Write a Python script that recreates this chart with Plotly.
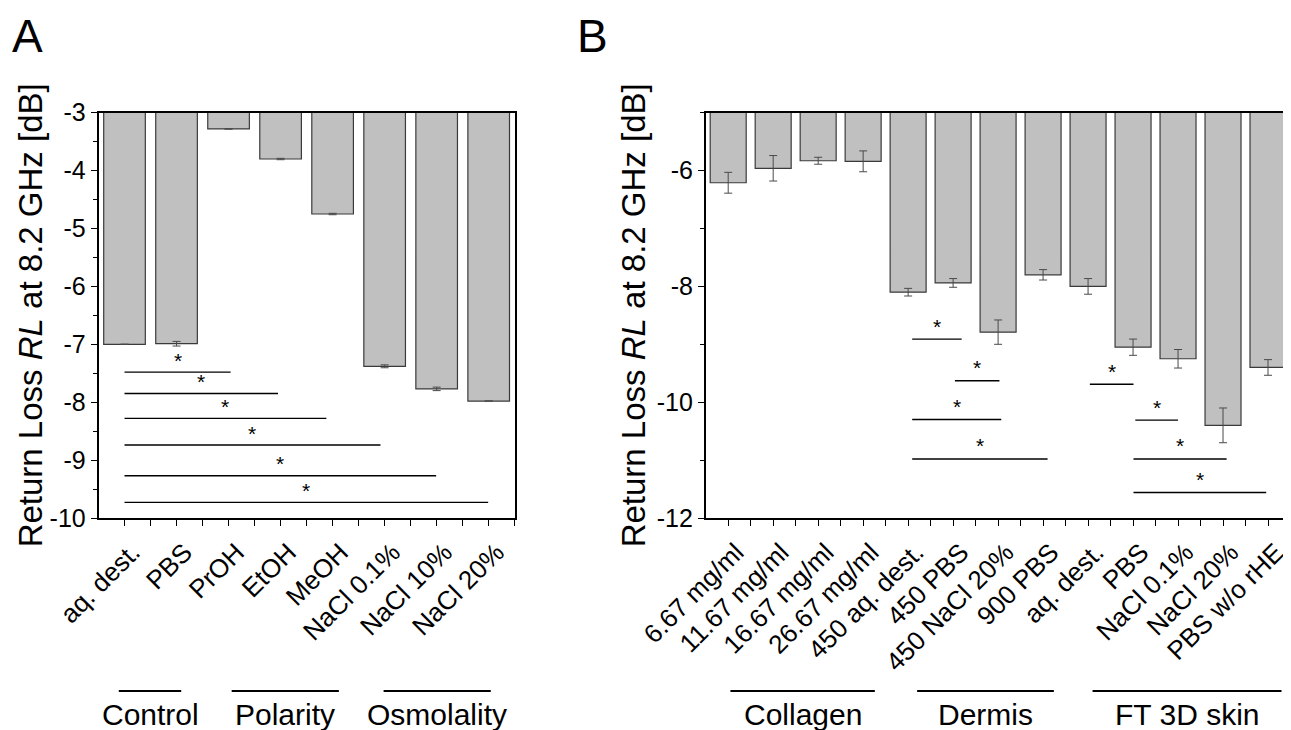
import plotly.graph_objects as go

# ---------------- data ----------------
cats_A = ["aq. dest.", "PBS", "PrOH", "EtOH", "MeOH", "NaCl 0.1%", "NaCl 10%", "NaCl 20%"]
vals_A = [-7.00, -6.99, -3.28, -3.80, -4.75, -7.38, -7.77, -7.98]
err_A = [0.0, 0.04, 0.005, 0.012, 0.012, 0.025, 0.03, 0.0]

cats_B = ["6.67 mg/ml", "11.67 mg/ml", "16.67 mg/ml", "26.67 mg/ml", "450 aq. dest.",
          "450 PBS", "450 NaCl 20%", "900 PBS", "aq. dest.", "PBS", "NaCl 0.1%",
          "NaCl 20%", "PBS w/o rHE"]
vals_B = [-6.21, -5.96, -5.83, -5.84, -8.10, -7.94, -8.79, -7.80, -8.00, -9.05,
          -9.25, -10.40, -9.40]
err_B = [0.18, 0.22, 0.06, 0.18, 0.066, 0.075, 0.21, 0.09, 0.135, 0.14, 0.16, 0.30, 0.135]

# significance brackets (start index, end index, level)
sig_A_x0 = [0.0, 0.0, 0.0, 0.0, 0.0, 0.0]
sig_A_x1 = [2.04, 2.95, 3.88, 4.92, 5.99, 6.99]
sig_A_y = [-7.48, -7.85, -8.28, -8.74, -9.27, -9.73]

sig_B_x0 = [4.09, 5.04, 4.09, 4.09, 8.04, 9.05, 9.01, 9.01]
sig_B_x1 = [5.19, 6.03, 6.07, 7.10, 9.01, 10.00, 11.08, 11.96]
sig_B_y = [-8.91, -9.63, -10.30, -10.98, -9.69, -10.31, -10.98, -11.56]

groups_A = ["Control", "Polarity", "Osmolality"]
groups_A_x0 = [-0.11, 2.06, 4.98]
groups_A_x1 = [1.09, 4.12, 7.04]

groups_B = ["Collagen", "Dermis", "FT 3D skin"]
groups_B_x0 = [0.05, 4.2, 8.1]
groups_B_x1 = [3.26, 7.24, 12.3]

ytick_A = [-3, -4, -5, -6, -7, -8, -9, -10]
ytick_B = [-6, -8, -10, -12]

ytitle = "Return Loss <i>RL</i> at 8.2 GHz [dB]"

# ---------------- style / page geometry ----------------
FONT = "Liberation Sans, Arial, sans-serif"
BAR_FILL = "#c0c0c0"
BAR_LINE = "#3a3a3a"
ERR_COL = "#4a4a4a"
OFF = 8                       # default body margin of the html page
W, H = 1291 - OFF, 730 - OFF  # figure size so that it fits the window


def px(x):
    return (x - OFF) / W


def py(y):
    return 1 - (y - OFF) / H


domA_x = [px(98.5), px(514.7)]
domB_x = [px(705.7), px(1290.5)]
dom_y = [py(518.0), py(112.7)]

fig = go.Figure()

fig.add_trace(go.Bar(
    x=list(range(len(cats_A))), y=vals_A, width=0.8,
    marker=dict(color=BAR_FILL, line=dict(color=BAR_LINE, width=1.2)),
    error_y=dict(type="data", array=err_A, color=ERR_COL, thickness=1, width=4),
    xaxis="x", yaxis="y", showlegend=False))

fig.add_trace(go.Bar(
    x=list(range(len(cats_B))), y=vals_B, width=0.8,
    marker=dict(color=BAR_FILL, line=dict(color=BAR_LINE, width=1.2)),
    error_y=dict(type="data", array=err_B, color=ERR_COL, thickness=1, width=4),
    xaxis="x2", yaxis="y2", showlegend=False))


def bracket_xy(x0s, x1s, ys):
    xs, yy = [], []
    for a, b, y in zip(x0s, x1s, ys):
        xs += [a, b, None]
        yy += [y, y, None]
    return xs, yy


xa, ya = bracket_xy(sig_A_x0, sig_A_x1, sig_A_y)
fig.add_trace(go.Scatter(x=xa, y=ya, mode="lines", line=dict(color="black", width=1.4),
                         xaxis="x", yaxis="y", showlegend=False, hoverinfo="skip"))
xb, yb = bracket_xy(sig_B_x0, sig_B_x1, sig_B_y)
fig.add_trace(go.Scatter(x=xb, y=yb, mode="lines", line=dict(color="black", width=1.4),
                         xaxis="x2", yaxis="y2", showlegend=False, hoverinfo="skip"))

annotations = []
for a, b, y in zip(sig_A_x0, sig_A_x1, sig_A_y):
    annotations.append(dict(x=(a + b) / 2, y=y, xref="x", yref="y", text="*", showarrow=False,
                            yanchor="middle", yshift=12, font=dict(family=FONT, size=21, color="black")))
for a, b, y in zip(sig_B_x0, sig_B_x1, sig_B_y):
    annotations.append(dict(x=(a + b) / 2, y=y, xref="x2", yref="y2", text="*", showarrow=False,
                            yanchor="middle", yshift=13, font=dict(family=FONT, size=21, color="black")))

shapes = []
for name, a, b in zip(groups_A, groups_A_x0, groups_A_x1):
    shapes.append(dict(type="line", xref="x", yref="paper", x0=a, x1=b,
                       y0=py(691), y1=py(691), line=dict(color="black", width=2.2)))
    annotations.append(dict(x=(a + b) / 2, y=py(714), xref="x", yref="paper", text=name,
                            showarrow=False, xanchor="center", yanchor="middle",
                            font=dict(family=FONT, size=30, color="black")))
for name, a, b in zip(groups_B, groups_B_x0, groups_B_x1):
    shapes.append(dict(type="line", xref="x2", yref="paper", x0=a, x1=b,
                       y0=py(691), y1=py(691), line=dict(color="black", width=2.2)))
    annotations.append(dict(x=(a + b) / 2, y=py(714), xref="x2", yref="paper", text=name,
                            showarrow=False, xanchor="center", yanchor="middle",
                            font=dict(family=FONT, size=30, color="black")))

# axis titles and panel letters
ymid = (dom_y[0] + dom_y[1]) / 2
annotations.append(dict(x=px(30), y=ymid, xref="paper", yref="paper",
                        text=ytitle, textangle=-90, showarrow=False, xanchor="center", yanchor="middle",
                        font=dict(family=FONT, size=33, color="black")))
annotations.append(dict(x=px(633), y=ymid, xref="paper", yref="paper",
                        text=ytitle, textangle=-90, showarrow=False, xanchor="center", yanchor="middle",
                        font=dict(family=FONT, size=33, color="black")))
annotations.append(dict(x=px(27), y=1.0, xref="paper", yref="paper", text="A", showarrow=False,
                        xanchor="center", yanchor="top", font=dict(family=FONT, size=46, color="black")))
annotations.append(dict(x=px(592), y=1.0, xref="paper", yref="paper", text="B", showarrow=False,
                        xanchor="center", yanchor="top", font=dict(family=FONT, size=46, color="black")))

common_x = dict(showgrid=False, zeroline=False, showline=True, linecolor="black", linewidth=1.5,
                mirror=True, ticks="outside", ticklen=6, tickwidth=1.3, tickcolor="black",
                tickangle=-45, automargin=False, ticklabelshift=8, ticklabelstandoff=1,
                tickfont=dict(family=FONT, size=26, color="black"))
common_y = dict(showgrid=False, zeroline=False, showline=True, linecolor="black", linewidth=1.5,
                mirror=True, ticks="outside", ticklen=6, tickwidth=1.3, tickcolor="black",
                automargin=False, tickfont=dict(family=FONT, size=25, color="black"))

fig.update_layout(
    width=W, height=H, margin=dict(l=0, r=0, t=0, b=0, autoexpand=False),
    paper_bgcolor="white", plot_bgcolor="white", showlegend=False,
    xaxis=dict(domain=domA_x, range=[-0.5, len(cats_A) - 0.5], anchor="y",
               tickmode="array", tickvals=list(range(len(cats_A))), ticktext=cats_A,
               minor=dict(tickmode="array", tickvals=[i + 0.5 for i in range(len(cats_A))],
                          ticks="outside", ticklen=6, tickwidth=1.3, tickcolor="black"),
               **common_x),
    yaxis=dict(domain=dom_y, range=[-10, -3], anchor="x",
               tickmode="array", tickvals=ytick_A, ticktext=[str(v) for v in ytick_A],
               minor=dict(tickmode="array", tickvals=[v - 0.5 for v in ytick_A[:-1]],
                          ticks="outside", ticklen=4, tickwidth=1.3, tickcolor="black"),
               **common_y),
    xaxis2=dict(domain=domB_x, range=[-0.5, len(cats_B) - 0.5], anchor="y2",
                tickmode="array", tickvals=list(range(len(cats_B))), ticktext=cats_B,
                minor=dict(tickmode="array", tickvals=[i + 0.5 for i in range(len(cats_B))],
                           ticks="outside", ticklen=6, tickwidth=1.3, tickcolor="black"),
                **common_x),
    yaxis2=dict(domain=dom_y, range=[-12, -5], anchor="x2",
                tickmode="array", tickvals=ytick_B, ticktext=[str(v) for v in ytick_B],
                minor=dict(tickmode="array", tickvals=[-5, -7, -9, -11],
                           ticks="outside", ticklen=4, tickwidth=1.3, tickcolor="black"),
                **common_y),
    annotations=annotations, shapes=shapes,
)

fig.write_html("out.html")
